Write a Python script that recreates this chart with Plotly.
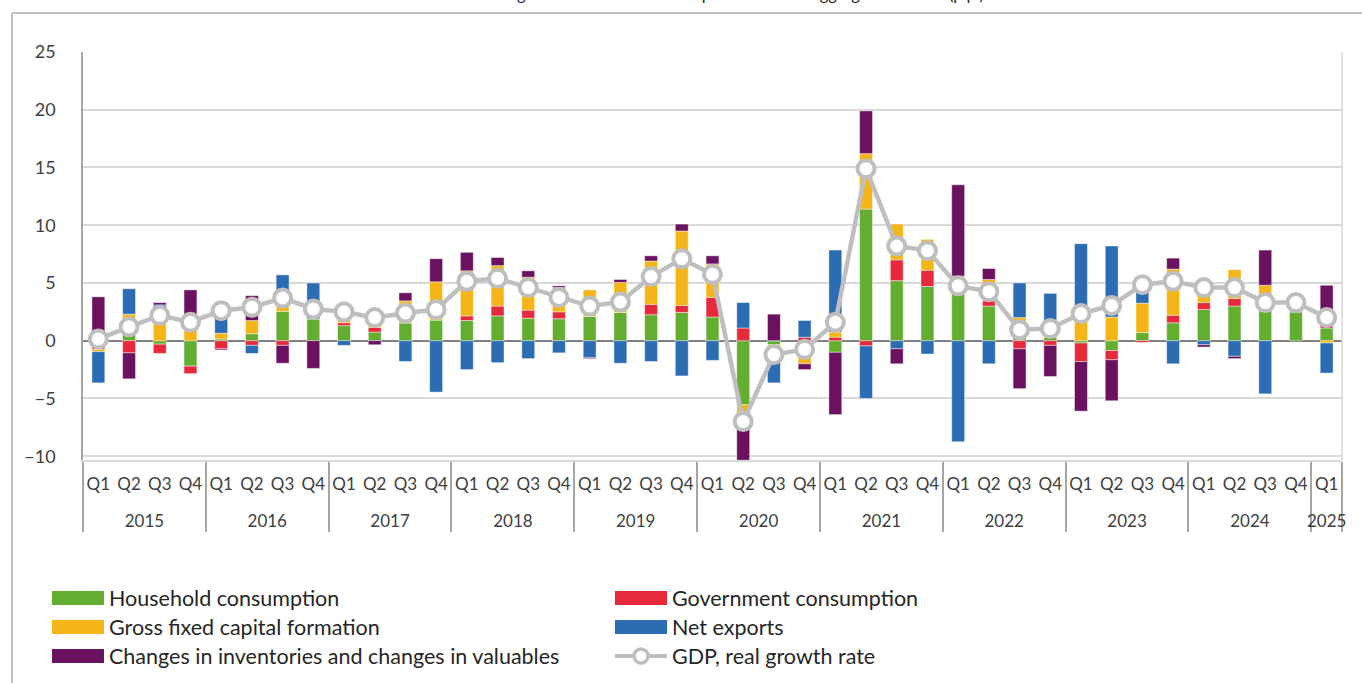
import plotly.graph_objects as go

# ---------------- data ----------------
year_labels = ["2015", "2016", "2017", "2018", "2019", "2020", "2021", "2022", "2023", "2024", "2025"]
quarter_labels = ["Q1", "Q2", "Q3", "Q4"]
periods_year = [y for y in year_labels[:-1] for _ in quarter_labels] + ["2025"]
periods_quarter = [q for _ in year_labels[:-1] for q in quarter_labels] + ["Q1"]

household = [-0.5, 0.6, -0.3, -2.2,
             0.15, 0.6, 2.55, 1.9,
             1.3, 0.75, 1.55, 1.8,
             1.75, 2.15, 1.95, 1.9,
             2.1, 2.45, 2.25, 2.45,
             2.05, -5.55, -0.35, -0.6,
             -1.0, 11.4, 5.2, 4.7,
             5.2, 3.0, 1.0, 0.3,
             -0.2, -0.85, 0.7, 1.55,
             2.7, 3.0, 3.0, 2.5,
             1.1]
government = [-0.25, -1.05, -0.8, -0.65,
              -0.7, -0.4, -0.4, 0.0,
              0.25, 0.4, 0.0, 0.0,
              0.4, 0.85, 0.7, 0.6,
              0.0, 0.0, 0.9, 0.6,
              1.7, 1.1, 0.0, 0.3,
              0.3, -0.45, 1.8, 1.4,
              0.2, 0.45, -0.7, -0.4,
              -1.6, -0.8, -0.15, 0.65,
              0.6, 0.65, 0.0, 0.0,
              0.4]
gfcf = [-0.2, 1.7, 2.6, 1.8,
        0.5, 1.15, 0.45, 0.0,
        0.5, 0.8, 1.9, 3.3,
        3.9, 3.5, 2.85, 2.1,
        2.3, 2.6, 3.75, 6.45,
        2.9, -0.7, -0.5, -1.4,
        0.45, 4.8, 3.1, 2.7,
        0.2, 1.85, 1.0, 0.6,
        1.9, 2.05, 2.55, 4.0,
        1.8, 2.5, 1.8, 0.4,
        -0.2]
net_exports = [-2.7, 2.2, 0.5, 0.0,
               2.7, -0.7, 2.7, 3.1,
               -0.4, 0.0, -1.8, -4.45,
               -2.5, -1.9, -1.55, -1.05,
               -1.45, -1.95, -1.8, -3.05,
               -1.7, 2.2, -2.8, 1.45,
               7.1, -4.55, -0.7, -1.15,
               -8.75, -2.0, 3.0, 3.2,
               6.5, 6.15, 1.7, -2.0,
               -0.35, -1.35, -4.6, 0.2,
               -2.6]
inventories = [3.8, -2.25, 0.2, 2.6,
               -0.1, 2.15, -1.55, -2.4,
               0.0, -0.35, 0.7, 2.0,
               1.6, 0.7, 0.55, 0.15,
               -0.1, 0.25, 0.45, 0.6,
               0.7, -4.1, 2.3, -0.5,
               -5.4, 3.7, -1.3, 0.0,
               7.9, 0.95, -3.45, -2.7,
               -4.3, -3.55, 0.0, 0.95,
               -0.2, -0.2, 3.05, 0.2,
               3.3]
gdp = [0.15, 1.2, 2.2, 1.6,
       2.6, 2.9, 3.7, 2.75,
       2.5, 2.0, 2.4, 2.7,
       5.15, 5.4, 4.6, 3.75,
       3.0, 3.35, 5.55, 7.1,
       5.75, -7.0, -1.2, -0.75,
       1.6, 14.9, 8.2, 7.8,
       4.75, 4.25, 0.95, 1.05,
       2.35, 3.05, 4.85, 5.15,
       4.6, 4.6, 3.3, 3.3,
       2.0]

series_names = ["Household consumption", "Government consumption", "Gross fixed capital formation",
                "Net exports", "Changes in inventories and changes in valuables"]
line_name = "GDP, real growth rate"
title_text = "Real GDP growth and the main components of the aggregate demand (p.p.)"

# ---------------- style ----------------
colors = ["#63AE30", "#E62A3B", "#F5B516", "#2B6CB3", "#6A1160"]
gray_line = "#BFBFBF"
FONT = "Lato, 'Open Sans', sans-serif"
W, H = 1362, 683
L, T = 83, 52
R = W - 1342
B = H - 460
PW, PH = W - L - R, H - T - B


def px2x(px):
    """page pixel x -> paper x"""
    return (px - L) / PW


def px2y(py):
    """page pixel y -> paper y"""
    return (H - B - py) / PH


x_cats = [["<br>" + y for y in periods_year], periods_quarter]
vals = [household, government, gfcf, net_exports, inventories]

fig = go.Figure()
for name, v, c in zip(series_names, vals, colors):
    fig.add_trace(go.Bar(x=x_cats, y=v, name=name,
                         marker=dict(color=c, line=dict(color="rgba(255,255,255,0.55)", width=0.8)),
                         showlegend=False))
fig.add_trace(go.Scatter(x=x_cats, y=gdp, name=line_name, mode="lines+markers",
                         line=dict(color=gray_line, width=4.5),
                         marker=dict(size=17, color="white", line=dict(color=gray_line, width=4)),
                         showlegend=False))

shapes = []
annotations = []
# outer frame (top and left)
shapes.append(dict(type="line", xref="paper", yref="paper", x0=px2x(12), x1=px2x(1362), y0=px2y(13), y1=px2y(13),
                   line=dict(color="#BFBFBF", width=2)))
shapes.append(dict(type="line", xref="paper", yref="paper", x0=px2x(12), x1=px2x(12), y0=px2y(13), y1=px2y(690),
                   line=dict(color="#BFBFBF", width=2)))
# right border of plot area
shapes.append(dict(type="line", xref="paper", yref="paper", x0=1, x1=1, y0=0, y1=1,
                   line=dict(color="#D9D9D9", width=1.5)))

# custom legend
legend_items = [(series_names[0], colors[0], 52, 598), (series_names[1], colors[1], 615, 598),
                (series_names[2], colors[2], 52, 627), (series_names[3], colors[3], 615, 627),
                (series_names[4], colors[4], 52, 656)]
for name, c, lx, ly in legend_items:
    shapes.append(dict(type="rect", xref="paper", yref="paper", x0=px2x(lx), x1=px2x(lx + 52),
                       y0=px2y(ly + 7), y1=px2y(ly - 7), fillcolor=c, line=dict(width=0)))
    annotations.append(dict(text=name, xref="paper", yref="paper", x=px2x(lx + 55), y=px2y(ly),
                            xanchor="left", yanchor="middle", showarrow=False,
                            font=dict(family=FONT, size=21.5, color="#262626")))
# GDP legend item
shapes.append(dict(type="line", xref="paper", yref="paper", x0=px2x(615), x1=px2x(667), y0=px2y(656), y1=px2y(656),
                   line=dict(color=gray_line, width=4)))
shapes.append(dict(type="circle", xref="paper", yref="paper", x0=px2x(634), x1=px2x(648), y0=px2y(663), y1=px2y(649),
                   fillcolor="white", line=dict(color=gray_line, width=3.5)))
annotations.append(dict(text=line_name, xref="paper", yref="paper", x=px2x(670), y=px2y(656),
                        xanchor="left", yanchor="middle", showarrow=False,
                        font=dict(family=FONT, size=21.5, color="#262626")))
# title (cut off at the top of the page, as in the source image)
annotations.append(dict(text=title_text, xref="paper", yref="paper", x=px2x(442), y=px2y(6),
                        xanchor="left", yanchor="bottom", showarrow=False,
                        font=dict(family=FONT, size=16.5, color="#262626")))

fig.update_layout(
    width=W, height=H,
    margin=dict(l=L, r=R, t=T, b=B, autoexpand=False),
    barmode="relative", bargap=0.58,
    plot_bgcolor="white", paper_bgcolor="white",
    font=dict(family=FONT, color="#404040"),
    shapes=shapes, annotations=annotations,
    showlegend=False,
)
fig.update_yaxes(range=[-10.33, 25], tickvals=[-10, -5, 0, 5, 10, 15, 20, 25],
                 showgrid=True, gridcolor="#D9D9D9", gridwidth=1.5,
                 zeroline=True, zerolinecolor="#808080", zerolinewidth=1.5,
                 showline=True, linecolor="#A6A6A6", linewidth=1.5,
                 tickfont=dict(size=18, color="#404040"), ticklabelstandoff=22, fixedrange=True)
fig.update_xaxes(type="multicategory", range=[-0.5, 40.5], tickangle=0,
                 ticklabelstandoff=8,
                 showline=True, linecolor="#D9D9D9", linewidth=1.5,
                 showdividers=True, dividercolor="#A6A6A6", dividerwidth=1.5,
                 tickfont=dict(size=17, color="#404040"), showgrid=False, fixedrange=True)

fig.write_html("out.html", config={"displayModeBar": False},
               post_script="document.body.style.margin='0';document.body.style.overflow='hidden';")
